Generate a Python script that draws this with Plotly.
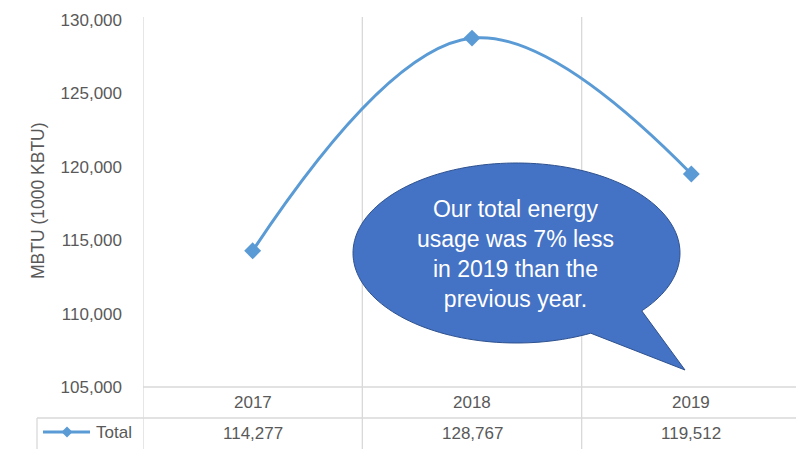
import numpy as np
import plotly.graph_objects as go

categories = ["2017", "2018", "2019"]
totals = [114277, 128767, 119512]
series_name = "Total"
y_ticks = [105000, 110000, 115000, 120000, 125000, 130000]
y_title = "MBTU (1000 KBTU)"
callout_lines = ["Our total energy", "usage was 7% less", "in 2019 than the", "previous year."]

OFF = 8  # browser body margin
SW, SH = 804, 449
W, H = SW - OFF, SH - OFF
L, R, T, B = 143, 801, 20, 387
PW, PH = R - L, B - T


def px(x):
    return (x - L) / PW


def py(y):
    return (B - y) / PH


LINE = "#5B9BD5"
GRID = "#D9D9D9"
TXT = "#595959"
FONT = "Liberation Sans"
idx = list(range(len(categories)))

fig = go.Figure()
fig.add_trace(go.Scatter(
    x=idx, y=totals, mode="lines+markers", name=series_name,
    line=dict(color=LINE, width=3, shape="spline", smoothing=1.1),
    marker=dict(symbol="diamond", size=13, color=LINE),
    showlegend=False, hoverinfo="y",
))

shapes = []
for b in [-0.5, 0.5, 1.5, 2.5]:
    shapes.append(dict(type="line", xref="x", yref="paper", x0=b, x1=b,
                       y0=py(17), y1=py(460), line=dict(color=GRID, width=1.3), layer="below"))
shapes.append(dict(type="line", xref="paper", yref="paper", x0=0, x1=1,
                   y0=py(387), y1=py(387), line=dict(color=GRID, width=1.3), layer="below"))
shapes.append(dict(type="line", xref="paper", yref="paper", x0=px(37), x1=1,
                   y0=py(418), y1=py(418), line=dict(color=GRID, width=1.3), layer="below"))
shapes.append(dict(type="line", xref="paper", yref="paper", x0=px(37), x1=px(37),
                   y0=py(418), y1=py(460), line=dict(color=GRID, width=1.3), layer="below"))
shapes.append(dict(type="line", xref="paper", yref="paper", x0=px(43), x1=px(90),
                   y0=py(432), y1=py(432), line=dict(color=LINE, width=3)))
kx, ky, kr = 67, 432, 5.5
shapes.append(dict(type="path", xref="paper", yref="paper",
                   path=f"M{px(kx-kr)},{py(ky)} L{px(kx)},{py(ky-kr)} L{px(kx+kr)},{py(ky)} L{px(kx)},{py(ky+kr)} Z",
                   fillcolor=LINE, line=dict(color=LINE, width=0)))

cx, cy, rx, ry = 516.5, 253, 163.5, 90
t0, t1 = np.deg2rad(63), np.deg2rad(40 + 360)
ts = np.linspace(t0, t1, 160)
pts = [(cx + rx * np.cos(t), cy + ry * np.sin(t)) for t in ts]
pts.append((685, 370))
path = "M" + " L".join(f"{px(a):.5f},{py(b):.5f}" for a, b in pts) + " Z"
shapes.append(dict(type="path", xref="paper", yref="paper", path=path,
                   fillcolor="#4472C4", line=dict(color="#2F528F", width=1)))

annotations = []
for i, c, v in zip(idx, categories, totals):
    annotations.append(dict(x=i, xref="x", y=py(402), yref="paper", text=c, showarrow=False,
                            font=dict(family=FONT, size=17, color=TXT), xanchor="center", yanchor="middle"))
    annotations.append(dict(x=i, xref="x", y=py(433), yref="paper", text=f"{v:,}", showarrow=False,
                            font=dict(family=FONT, size=17, color=TXT), xanchor="center", yanchor="middle"))
annotations.append(dict(x=px(94), xref="paper", y=py(432), yref="paper", text=series_name, showarrow=False,
                        font=dict(family=FONT, size=17, color=TXT), xanchor="left", yanchor="middle"))
annotations.append(dict(x=px(38), xref="paper", y=py(201), yref="paper", text=y_title, showarrow=False,
                        textangle=-90, font=dict(family=FONT, size=17.5, color=TXT),
                        xanchor="center", yanchor="middle"))
annotations.append(dict(x=px(516), xref="paper", y=py(254), yref="paper",
                        text="<br>".join(callout_lines), showarrow=False, align="center",
                        font=dict(family=FONT, size=23, color="white"),
                        xanchor="center", yanchor="middle"))

fig.update_layout(
    width=W, height=H,
    margin=dict(l=L - OFF, r=SW - R, t=T - OFF, b=SH - B, pad=0),
    plot_bgcolor="white", paper_bgcolor="white",
    xaxis=dict(type="linear", range=[-0.5, 2.5], showticklabels=False, showgrid=False, zeroline=False,
               showline=False, ticks=""),
    yaxis=dict(range=[105000, 130000], tickvals=y_ticks, tickformat=",d", showgrid=False,
               zeroline=False, showline=False, ticks="", ticklabelstandoff=20,
               tickfont=dict(family=FONT, size=17, color=TXT)),
    shapes=shapes, annotations=annotations,
)
fig.write_html("out.html")
